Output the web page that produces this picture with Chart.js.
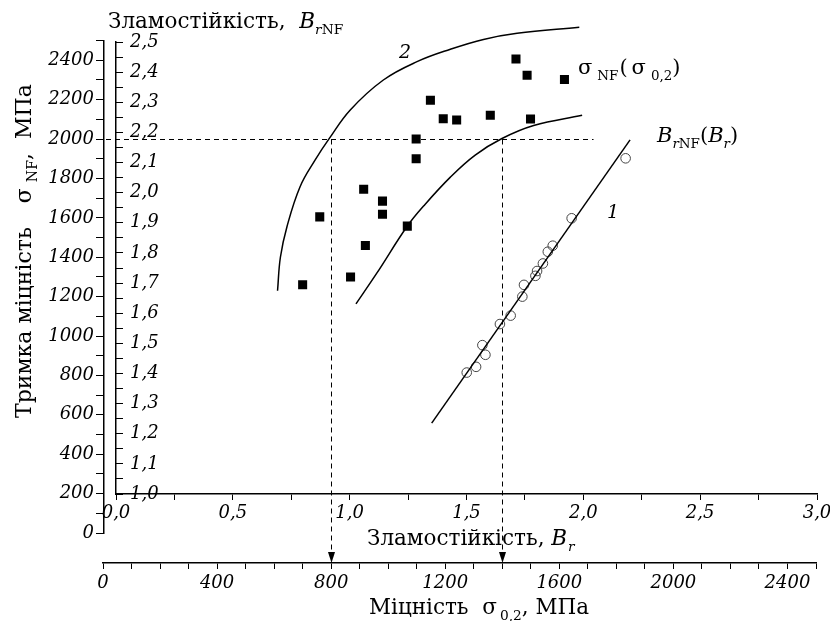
<!DOCTYPE html>
<html>
<head>
<meta charset="utf-8">
<script src="https://cdn.jsdelivr.net/npm/chart.js@4"></script>
<style>
html, body { margin: 0; padding: 0; background: #fff; }
</style>
</head>
<body>
<canvas id="chart" width="830" height="621"></canvas>
<script>
// σNF(σ0,2), MPa — filled squares
const sigma02 = [700, 760, 868, 914, 920, 980, 980, 1067, 1098, 1098, 1148, 1193, 1240, 1358, 1448, 1487, 1499, 1618];
const sigmaNF = [1260, 1605, 1300, 1745, 1460, 1685, 1618, 1558, 2000, 1900, 2197, 2103, 2097, 2121, 2407, 2324, 2102, 2303];

// BrNF(Br) — open circles
const brValues   = [2.181, 1.950, 1.869, 1.848, 1.827, 1.802, 1.795, 1.746, 1.739, 1.689, 1.643, 1.568, 1.581, 1.541, 1.501];
const brnfValues = [2.114, 1.915, 1.824, 1.804, 1.765, 1.740, 1.724, 1.694, 1.655, 1.592, 1.564, 1.494, 1.462, 1.422, 1.403];

// straight line 1 (BrNF vs Br)
const line1Br   = [1.351, 2.200];
const line1Brnf = [1.235, 2.175];

// curve 2 and the lower curve, in σ units (MPa)
const curve2Sigma02 = [612, 622, 645, 691, 744, 793, 867, 983, 1101, 1218, 1334, 1452, 1670];
const curve2SigmaNF = [1230, 1400, 1555, 1758, 1894, 2002, 2148, 2300, 2393, 2456, 2506, 2537, 2568];
const curve3Sigma02 = [887, 960, 1066, 1124, 1218, 1305, 1399, 1510, 1680];
const curve3SigmaNF = [1163, 1319, 1556, 1660, 1807, 1919, 2003, 2069, 2121];

// dashed guide: σNF = 2000 -> σ0,2 = 800 and 1400
const guideLevel = 2000;
const guideEnd = 1720;
const guideDrops = [800, 1400];

const zip = (xs, ys) => xs.map((x, i) => ({ x: x, y: ys[i] }));
const isMult = (v, step) => Math.abs(v / step - Math.round(v / step)) < 1e-6;
const comma1 = v => v.toFixed(1).replace('.', ',');

const FAMILY = '"DejaVu Serif", serif';
const tickFont = { family: FAMILY, size: 18, style: 'italic' };

function axis(opts) {
    return Object.assign({
        type: 'linear',
        border: { color: '#000', width: 1.5 }
    }, opts);
}

// σ axes stick out past the chart area in the original
const axisExtents = {
    id: 'axisExtents',
    afterLayout(chart) {
        const xs = chart.scales.xs, ys = chart.scales.ys, area = chart.chartArea;
        xs.left = area.left - 13;
        xs.right = area.right - 1;
        xs.width = xs.right - xs.left;
        xs.configure();
        ys.bottom = area.bottom + 39;
        ys.top = area.top - 1.4;
        ys.height = ys.bottom - ys.top;
        ys.configure();
    }
};

const guides = {
    id: 'guides',
    beforeDatasetsDraw(chart) {
        const ctx = chart.ctx, xs = chart.scales.xs, ys = chart.scales.ys;
        const yLevel = Math.round(ys.getPixelForValue(guideLevel)) + 0.5;
        ctx.save();
        ctx.strokeStyle = '#000';
        ctx.fillStyle = '#000';
        ctx.lineWidth = 1;
        ctx.setLineDash([5, 4]);
        ctx.beginPath();
        ctx.moveTo(ys.right + 2, yLevel);
        ctx.lineTo(xs.getPixelForValue(guideEnd), yLevel);
        guideDrops.forEach(v => {
            const px = Math.round(xs.getPixelForValue(v)) + 0.5;
            ctx.moveTo(px, yLevel);
            ctx.lineTo(px, xs.top - 8);
        });
        ctx.stroke();
        ctx.setLineDash([]);
        guideDrops.forEach(v => {
            const px = Math.round(xs.getPixelForValue(v)) + 0.5;
            ctx.beginPath();
            ctx.moveTo(px, xs.top);
            ctx.lineTo(px - 3.5, xs.top - 11);
            ctx.lineTo(px + 3.5, xs.top - 11);
            ctx.closePath();
            ctx.fill();
        });
        ctx.restore();
    }
};

function drawRich(ctx, x, y, parts, size) {
    let cx = x;
    parts.forEach(p => {
        const fs = p.sub ? size * 0.64 : size;
        ctx.font = (p.italic ? 'italic ' : '') + fs + 'px ' + FAMILY;
        cx += p.dx || 0;
        ctx.fillText(p.t, cx, y + (p.sub ? size * 0.27 : 0));
        cx += ctx.measureText(p.t).width;
    });
}

const labels = {
    id: 'labels',
    afterDraw(chart) {
        const ctx = chart.ctx;
        ctx.save();
        ctx.fillStyle = '#000';
        ctx.textAlign = 'left';
        ctx.textBaseline = 'alphabetic';

        drawRich(ctx, 108, 28, [
            { t: 'Зламостійкість, ' }, { t: 'B', italic: true, dx: 7 },
            { t: 'r', italic: true, sub: true }, { t: 'NF', sub: true }
        ], 21.5);
        drawRich(ctx, 367, 545, [
            { t: 'Зламостійкість, ' }, { t: 'B', italic: true },
            { t: 'r', italic: true, sub: true, dx: 1 }
        ], 21.5);
        drawRich(ctx, 369, 614, [
            { t: 'Міцність  ' }, { t: 'σ' }, { t: '0,2', sub: true, dx: 3 }, { t: ', МПа' }
        ], 21.5);
        drawRich(ctx, 578, 74, [
            { t: 'σ' }, { t: 'NF', sub: true, dx: 5 }, { t: '(', dx: 1 }, { t: 'σ', dx: 4 },
            { t: '0,2', sub: true, dx: 5 }, { t: ')' }
        ], 21);
        drawRich(ctx, 657, 142, [
            { t: 'B', italic: true }, { t: 'r', italic: true, sub: true }, { t: 'NF', sub: true },
            { t: '(' }, { t: 'B', italic: true }, { t: 'r', italic: true, sub: true }, { t: ')' }
        ], 21);

        ctx.save();
        ctx.translate(31, 418);
        ctx.rotate(-Math.PI / 2);
        drawRich(ctx, 0, 0, [
            { t: 'Тримка міцність' }, { t: 'σ', dx: 24 }, { t: 'NF', sub: true, dx: 6 },
            { t: ',' }, { t: 'МПа', dx: 14 }
        ], 22);
        ctx.restore();

        ctx.font = 'italic 19px ' + FAMILY;
        ctx.textAlign = 'center';
        ctx.textBaseline = 'middle';
        ctx.fillText('1', 613, 213);
        ctx.fillText('2', 405, 53);
        ctx.restore();
    }
};

const lineStyle = { showLine: true, pointRadius: 0, borderColor: '#000', borderWidth: 1.5, tension: 0.4, clip: false };

new Chart(document.getElementById('chart'), {
    type: 'scatter',
    data: {
        datasets: [
            Object.assign({ data: zip(curve2Sigma02, curve2SigmaNF), xAxisID: 'xs', yAxisID: 'ys' }, lineStyle),
            Object.assign({ data: zip(curve3Sigma02, curve3SigmaNF), xAxisID: 'xs', yAxisID: 'ys' }, lineStyle),
            {
                data: zip(sigma02, sigmaNF), xAxisID: 'xs', yAxisID: 'ys',
                pointStyle: 'rect', pointRadius: 6.4, backgroundColor: '#000', borderColor: '#000', borderWidth: 0
            },
            Object.assign({ data: zip(line1Br, line1Brnf), xAxisID: 'x', yAxisID: 'y' }, lineStyle, { tension: 0 }),
            {
                data: zip(brValues, brnfValues), xAxisID: 'x', yAxisID: 'y',
                pointStyle: 'circle', pointRadius: 4.8, backgroundColor: 'rgba(0,0,0,0)',
                borderColor: '#444', borderWidth: 1
            }
        ]
    },
    options: {
        responsive: false,
        animation: false,
        layout: { padding: { top: 42, right: 13, left: 0, bottom: 0 } },
        plugins: { legend: { display: false }, tooltip: { enabled: false } },
        scales: {
            x: axis({
                position: 'bottom', weight: 1, min: 0, max: 3,
                grid: { drawOnChartArea: false, tickLength: 6, tickColor: '#000' },
                ticks: { stepSize: 0.25, maxTicksLimit: 1000, autoSkip: false, maxRotation: 0, padding: 3,
                    color: '#000', font: tickFont, callback: v => isMult(v, 0.5) ? comma1(v) : '' },
                afterFit: s => { s.height = 69; s.paddingLeft = 0; s.paddingRight = 0; }
            }),
            xs: axis({
                position: 'bottom', weight: 2, min: 0, max: 2500,
                grid: { drawOnChartArea: false, tickLength: 6, tickColor: '#000' },
                ticks: { stepSize: 100, maxTicksLimit: 1000, autoSkip: false, maxRotation: 0, padding: 4,
                    color: '#000', font: tickFont, callback: v => isMult(v, 400) ? String(v) : '' },
                afterFit: s => { s.height = 58; s.paddingLeft = 0; s.paddingRight = 0; }
            }),
            y: axis({
                position: 'left', weight: 1, min: 1, max: 2.5,
                grid: { drawOnChartArea: false, tickLength: -7, tickColor: '#000' },
                ticks: { stepSize: 0.05, maxTicksLimit: 1000, autoSkip: false, mirror: true, padding: 14,
                    color: '#000', font: tickFont, callback: v => isMult(v, 0.1) ? comma1(v) : '' },
                afterFit: s => { s.width = 12; s.paddingTop = 0; s.paddingBottom = 0; }
            }),
            ys: axis({
                position: 'left', weight: 2, min: 0, max: 2500,
                grid: { drawOnChartArea: false, tickLength: 8, tickColor: '#000' },
                ticks: { stepSize: 100, maxTicksLimit: 1000, autoSkip: false, padding: 2,
                    color: '#000', font: tickFont, callback: v => isMult(v, 200) ? String(v) : '' },
                afterFit: s => { s.width = 104; s.paddingTop = 0; s.paddingBottom = 0; }
            })
        }
    },
    plugins: [axisExtents, guides, labels]
});
</script>
</body>
</html>
